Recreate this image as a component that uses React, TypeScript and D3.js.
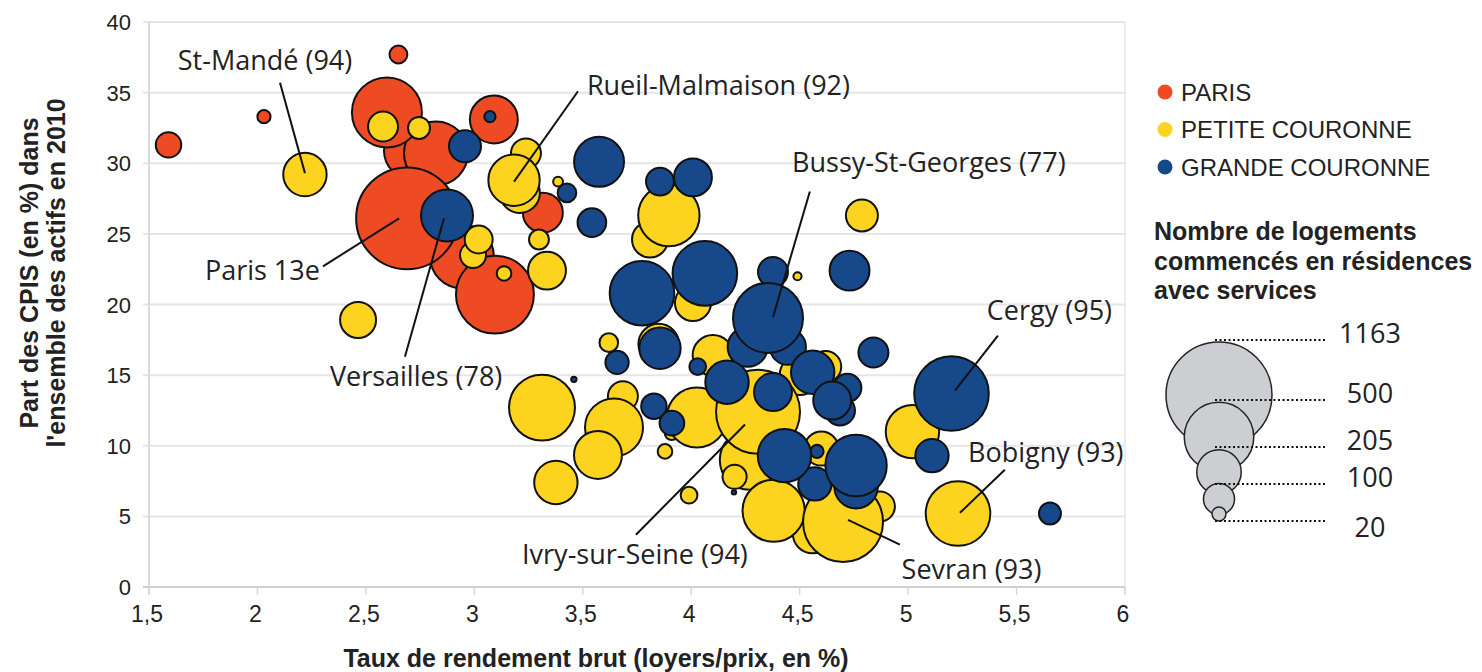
import React from 'react';
import * as d3 from 'd3';

// [taux de rendement, part des CPIS, logements commencés]
const paris: [number, number, number][] = [
  [1.59, 31.3, 67],
  [2.03, 33.3, 18],
  [2.65, 37.7, 33],
  [2.717, 30.9, 348],
  [2.823, 30.7, 423],
  [2.943, 23.4, 420],
  [2.69, 26.1, 1075],
  [2.597, 33.6, 507],
  [3.09, 33.1, 238],
  [3.095, 20.7, 629],
  [3.316, 26.5, 165],
];

const petiteCouronne: [number, number, number][] = [
  [2.219, 29.2, 195],
  [2.464, 18.9, 134],
  [2.579, 32.6, 93],
  [2.745, 32.5, 50],
  [2.994, 23.5, 70],
  [3.02, 24.6, 81],
  [3.137, 22.2, 22],
  [3.238, 30.7, 93],
  [3.21, 27.9, 165],
  [3.183, 28.8, 273],
  [3.386, 28.7, 10],
  [3.298, 24.6, 41],
  [3.335, 22.4, 149],
  [3.81, 24.6, 134],
  [3.897, 26.3, 390],
  [4.008, 20.1, 134],
  [3.62, 17.3, 36],
  [3.85, 17.2, 170],
  [4.1, 16.4, 170],
  [4.5, 15.0, 165],
  [4.62, 15.6, 100],
  [3.312, 12.7, 450],
  [3.685, 13.5, 93],
  [3.644, 11.3, 348],
  [3.57, 9.35, 238],
  [3.376, 7.4, 195],
  [3.91, 10.9, 20],
  [3.879, 9.6, 22],
  [4.026, 12.0, 372],
  [3.99, 6.5, 29],
  [4.27, 9.0, 372],
  [4.2, 7.8, 60],
  [4.308, 12.4, 730],
  [4.6, 9.8, 120],
  [4.56, 3.8, 165],
  [4.87, 5.7, 93],
  [4.38, 5.4, 400],
  [4.72, 4.2, 400],
  [4.7, 4.6, 662],
  [4.787, 26.3, 106],
  [5.02, 11.0, 295],
  [5.23, 5.2, 432],
  [4.49, 22.0, 7],
];

const grandeCouronne: [number, number, number][] = [
  [2.957, 31.2, 106],
  [3.072, 33.3, 13],
  [2.874, 26.3, 280],
  [3.427, 27.9, 36],
  [3.575, 30.1, 258],
  [3.542, 25.8, 85],
  [3.856, 28.7, 81],
  [4.008, 29.0, 149],
  [3.773, 20.8, 432],
  [4.063, 22.2, 432],
  [4.377, 22.3, 93],
  [4.73, 22.4, 165],
  [4.26, 17.0, 165],
  [4.446, 17.0, 134],
  [4.354, 19.05, 507],
  [3.658, 15.9, 56],
  [3.856, 16.9, 177],
  [3.459, 14.7, 3],
  [4.03, 15.6, 29],
  [4.165, 14.5, 195],
  [4.377, 13.8, 149],
  [4.56, 15.2, 195],
  [4.686, 12.5, 93],
  [4.72, 14.1, 81],
  [4.65, 13.2, 149],
  [4.84, 16.6, 93],
  [3.828, 12.8, 67],
  [3.911, 11.6, 63],
  [4.197, 6.7, 2],
  [4.58, 9.6, 18],
  [4.57, 7.3, 115],
  [4.76, 7.1, 195],
  [4.43, 9.3, 295],
  [4.76, 8.6, 390],
  [5.2, 13.7, 576],
  [5.11, 9.3, 115],
  [5.654, 5.2, 50],
];

const seriesNames = ['PARIS', 'PETITE COURONNE', 'GRANDE COURONNE'];
const seriesColors = ['#ee4a23', '#fcd31e', '#17498a'];

const xTicks = [1.5, 2, 2.5, 3, 3.5, 4, 4.5, 5, 5.5, 6];
const yTicks = [0, 5, 10, 15, 20, 25, 30, 35, 40];

const sizeLegend = [1163, 500, 205, 100, 20];
// y of the dotted line and of the circle centre for each legend value
const sizeLegendLineY = [340, 400, 447, 484, 521];
const sizeLegendCy = [395, 437, 472, 499, 514];

// label text, anchor of text (x,y), start of leader, bubble end of leader
const annotations: { name: string; tx: number; ty: number; anchor: string; x1: number; y1: number; x2: number; y2: number }[] = [
  { name: 'St-Mandé (94)', tx: 2.035, ty: 36.6, anchor: 'middle', x1: 2.104, y1: 35.7, x2: 2.219, y2: 29.3 },
  { name: 'Rueil-Malmaison (92)', tx: 3.519, ty: 34.8, anchor: 'start', x1: 3.478, y1: 35.1, x2: 3.183, y2: 28.7 },
  { name: 'Bussy-St-Georges (77)', tx: 4.465, ty: 29.4, anchor: 'start', x1: 4.547, y1: 28.0, x2: 4.377, y2: 19.1 },
  { name: 'Paris 13e', tx: 2.288, ty: 21.7, anchor: 'end', x1: 2.302, y1: 22.7, x2: 2.653, y2: 26.1 },
  { name: 'Versailles (78)', tx: 2.334, ty: 14.2, anchor: 'start', x1: 2.68, y1: 16.3, x2: 2.86, y2: 26.1 },
  { name: 'Cergy (95)', tx: 5.363, ty: 18.9, anchor: 'start', x1: 5.414, y1: 17.8, x2: 5.216, y2: 13.9 },
  { name: 'Bobigny (93)', tx: 5.276, ty: 8.85, anchor: 'start', x1: 5.446, y1: 8.3, x2: 5.239, y2: 5.25 },
  { name: 'Ivry-sur-Seine (94)', tx: 3.22, ty: 1.6, anchor: 'start', x1: 3.745, y1: 3.7, x2: 4.248, y2: 11.5 },
  { name: 'Sevran (93)', tx: 4.97, ty: 0.6, anchor: 'start', x1: 4.962, y1: 3.0, x2: 4.723, y2: 4.75 },
];

const W = 1482;
const H = 672;

export default function App() {
  const x = d3.scaleLinear().domain([1.5, 6]).range([149, 1125]);
  const y = d3.scaleLinear().domain([0, 40]).range([587, 22]);
  const r = d3.scaleSqrt().domain([0, 1163]).range([0, 53]);
  const fmt = (d: number) => String(d).replace('.', ',');

  const allSeries = [paris, petiteCouronne, grandeCouronne];
  const axisFont = '"Liberation Sans", Arial, sans-serif';
  const labelFont = '"Open Sans", sans-serif';

  return (
    <svg width={W} height={H} style={{ position: 'absolute', left: 0, top: 0, background: '#fff' }}>
      {/* grid */}
      {yTicks.map((t) => (
        <line key={'g' + t} x1={x(1.5) - 6} x2={x(6)} y1={y(t)} y2={y(t)} stroke={t === 0 ? '#cfcfcf' : '#e6e6e6'} strokeWidth={2} />
      ))}
      <line x1={x(1.5)} x2={x(1.5)} y1={y(40)} y2={y(0) + 8} stroke="#d9d9d9" strokeWidth={2} />
      <line x1={x(6)} x2={x(6)} y1={y(40)} y2={y(0) + 8} stroke="#e6e6e6" strokeWidth={1.5} />
      {xTicks.map((t) => (
        <line key={'xt' + t} x1={x(t)} x2={x(t)} y1={y(0)} y2={y(0) + 8} stroke="#d9d9d9" strokeWidth={1.5} />
      ))}

      {/* tick labels */}
      {yTicks.map((t) => (
        <text key={'yl' + t} x={131} y={y(t) + 8} textAnchor="end" fontFamily={axisFont} fontSize={22} fill="#222">
          {t}
        </text>
      ))}
      {xTicks.map((t) => (
        <text key={'xl' + t} x={x(t) - 2} y={622} textAnchor="middle" fontFamily={axisFont} fontSize={23} fill="#222">
          {fmt(t)}
        </text>
      ))}

      {/* axis titles */}
      <text x={596} y={667} textAnchor="middle" fontFamily={axisFont} fontWeight="bold" fontSize={25} fill="#222">
        Taux de rendement brut (loyers/prix, en %)
      </text>
      <g transform="translate(38,273) rotate(-90)">
        <text x={0} y={0} textAnchor="middle" fontFamily={axisFont} fontWeight="bold" fontSize={25} fill="#222">
          Part des CPIS (en %) dans
        </text>
        <text x={0} y={27} textAnchor="middle" fontFamily={axisFont} fontWeight="bold" fontSize={25} fill="#222">
          l'ensemble des actifs en 2010
        </text>
      </g>

      {/* bubbles */}
      {allSeries.map((s, i) => (
        <g key={'s' + i}>
          {s.map((d, j) => (
            <circle key={j} cx={x(d[0])} cy={y(d[1])} r={r(d[2])} fill={seriesColors[i]} stroke="#111" strokeWidth={2} />
          ))}
        </g>
      ))}

      {/* annotations */}
      {annotations.map((a) => (
        <g key={a.name}>
          <line x1={x(a.x1)} y1={y(a.y1)} x2={x(a.x2)} y2={y(a.y2)} stroke="#111" strokeWidth={2} />
          <text x={x(a.tx)} y={y(a.ty)} textAnchor={a.anchor} fontFamily={labelFont} fontSize={27} fill="#222">
            {a.name}
          </text>
        </g>
      ))}

      {/* colour legend */}
      {seriesNames.map((n, i) => (
        <g key={n}>
          <circle cx={1165} cy={92 + i * 37.5} r={7.5} fill={seriesColors[i]} />
          <text x={1181} y={100.5 + i * 37.5} fontFamily={axisFont} fontSize={24} fill="#222">
            {n}
          </text>
        </g>
      ))}

      {/* size legend */}
      {['Nombre de logements', 'commencés en résidences', 'avec services'].map((l, i) => (
        <text key={l} x={1154} y={240 + i * 29.5} fontFamily={axisFont} fontWeight="bold" fontSize={25} fill="#222">
          {l}
        </text>
      ))}
      {sizeLegend.map((v, i) => (
        <circle key={'c' + v} cx={1219} cy={sizeLegendCy[i]} r={r(v)} fill="#cdced2" stroke="#222" strokeWidth={1.5} />
      ))}
      {sizeLegend.map((v, i) => (
        <g key={'l' + v}>
          <line x1={1215} x2={1325} y1={sizeLegendLineY[i]} y2={sizeLegendLineY[i]} stroke="#111" strokeWidth={2} strokeDasharray="2,2.5" />
          <text x={1370} y={sizeLegendLineY[i] + (i === 4 ? 16 : 3)} textAnchor="middle" fontFamily={labelFont} fontSize={27} fill="#222">
            {v}
          </text>
        </g>
      ))}
    </svg>
  );
}
